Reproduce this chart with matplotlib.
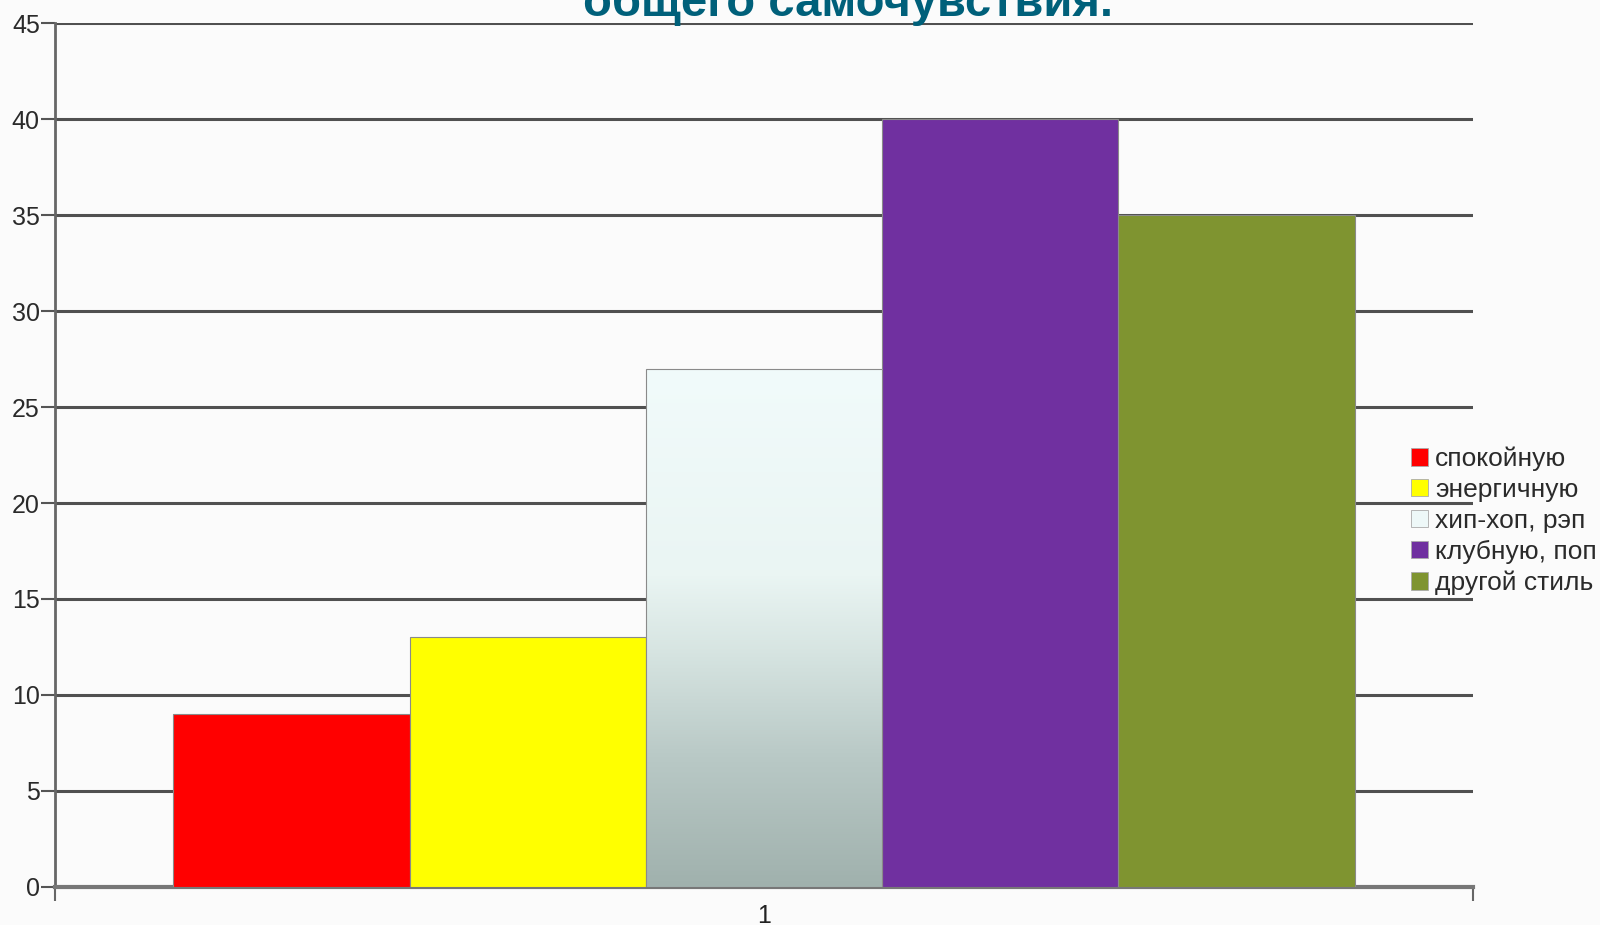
import numpy as np
import matplotlib
matplotlib.use("Agg")
import matplotlib.pyplot as plt
from matplotlib.colors import LinearSegmentedColormap

plt.rcParams['font.family'] = ['Liberation Sans', 'DejaVu Sans']

title = "общего самочувствия."
categories = ["спокойную", "энергичную", "хип-хоп, рэп", "клубную, поп", "другой стиль"]
values = [9, 13, 27, 40, 35]
colors = ["#ff0000", "#ffff00", "#eef8f8", "#7030a0", "#7f9430"]
x_label = "1"
yticks = [0, 5, 10, 15, 20, 25, 30, 35, 40, 45]

fig = plt.figure(figsize=(16, 9.25), dpi=100, facecolor="#fbfbfb")
ax = fig.add_axes([0.0344, 0.0411, 0.8862, 0.934])
ax.set_facecolor("#fbfbfb")

w = 1 / 6
offsets = (np.arange(len(values)) - 2) * w
bars = ax.bar(offsets, values, width=w, color=colors, edgecolor="#8a8a8a",
              linewidth=0.8, zorder=3, label=None)

# gradient for hip-hop bar
hb = bars[2]
grad_cmap = LinearSegmentedColormap.from_list(
    "g", [(0.0, "#a0b1ad"), (0.25, "#b9c9c6"), (0.45, "#d6e4e1"), (0.6, "#eaf5f3"), (1.0, "#f1fbfb")])
gradient = np.linspace(0, 1, 256).reshape(-1, 1)
im = ax.imshow(gradient, cmap=grad_cmap, origin="lower", aspect="auto",
               extent=[hb.get_x(), hb.get_x() + hb.get_width(), 0, hb.get_height()],
               zorder=3.5)
im.set_clip_path(hb)
hb.set_facecolor("none")
hb.set_zorder(4)

ax.set_xlim(-0.5, 0.5)
ax.set_ylim(0, 45)
ax.set_yticks(yticks)
ax.set_yticklabels([str(t) for t in yticks])
ax.yaxis.grid(True, color="#505050", linewidth=2.2, zorder=1)
ax.set_axisbelow(True)

ax.set_xticks([-0.5, 0.5])
ax.set_xticklabels(["", ""])
ax.set_xticks([0], minor=True)
ax.set_xticklabels([x_label], minor=True)
ax.tick_params(axis="x", which="minor", length=0, pad=12, labelsize=18, labelcolor="#222222")
ax.tick_params(axis="x", which="major", length=10, width=1.5, color="#666666")
ax.tick_params(axis="y", length=10, width=1.5, color="#555555", pad=1,
               labelsize=18, labelcolor="#2a2a2a")

for s in ["top", "right"]:
    ax.spines[s].set_visible(False)
ax.spines["left"].set_color("#666666")
ax.spines["left"].set_linewidth(2)
ax.spines["bottom"].set_color("#777777")
ax.spines["bottom"].set_linewidth(3)

handles = [plt.Rectangle((0, 0), 1, 1, facecolor=c, edgecolor="#aaaaaa", linewidth=0.6)
           for c in colors]
leg = fig.legend(handles, categories, loc="center left",
                 bbox_to_anchor=(0.882, 0.437), frameon=False,
                 fontsize=19, handlelength=0.65, handleheight=0.65,
                 handletextpad=0.25, labelspacing=0.26, borderpad=0, borderaxespad=0)
for t in leg.get_texts():
    t.set_color("#2a2a2a")

fig.text(0.53, 1 - 16 / 925, title, ha="center", va="baseline",
         fontsize=34, fontweight="bold", color="#00607a")

fig.savefig("out.png", dpi=100, facecolor=fig.get_facecolor())
